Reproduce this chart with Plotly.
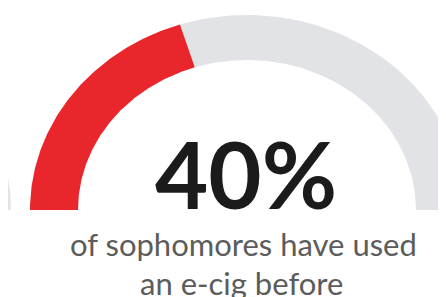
import numpy as np
import plotly.graph_objects as go

# ---- data ----
value_pct = 40            # share of sophomores who have used an e-cig
gauge_max = 100
headline = "40%"
subtitle_lines = ["of sophomores have used", "an e-cig before"]

# ---- geometry (pixel-like data space) ----
W, H = 446, 297
PAD = 8                      # page body margin in the browser
cx, cy = 247, H - 210
rx_out, rx_in = 217, 169
ry_out, ry_in = 195, 150
RED = "#e8262b"
GREY = "#e2e3e6"


def arc(c_x, c_y, a0, a1, n=120):
    t = np.linspace(np.radians(a0), np.radians(a1), n)
    xo = c_x + rx_out * np.cos(t)
    yo = c_y + ry_out * np.sin(t)
    xi = c_x + rx_in * np.cos(t[::-1])
    yi = c_y + ry_in * np.sin(t[::-1])
    return np.r_[xo, xi, xo[:1]], np.r_[yo, yi, yo[:1]]


split = 180 - 180 * value_pct / gauge_max

fig = go.Figure()
# neighbouring gauge (only its right leg is visible at the left edge)
gx, gy = arc(-206, cy, 0, 180)
fig.add_trace(go.Scatter(x=gx, y=gy, fill="toself", fillcolor=GREY,
                         line=dict(width=0), mode="lines", hoverinfo="skip"))
# remainder
gx, gy = arc(cx, cy, 0, split)
fig.add_trace(go.Scatter(x=gx, y=gy, fill="toself", fillcolor=GREY,
                         line=dict(width=0), mode="lines", hoverinfo="skip"))
# value
rx_, ry_ = arc(cx, cy, split, 180)
fig.add_trace(go.Scatter(x=rx_, y=ry_, fill="toself", fillcolor=RED,
                         line=dict(width=0), mode="lines", hoverinfo="skip"))

fig.add_annotation(x=246, y=H - 173, text=headline, showarrow=False,
                   font=dict(family="Lato", size=92, color="#1b1b1b", weight=700),
                   xanchor="center", yanchor="middle")
fig.add_annotation(x=243, y=H - 244, text=subtitle_lines[0], showarrow=False,
                   font=dict(family="Lato", size=31, color="#5c5c5c"),
                   xanchor="center", yanchor="middle")
fig.add_annotation(x=241, y=H - 283, text=subtitle_lines[1], showarrow=False,
                   font=dict(family="Lato", size=31, color="#5c5c5c"),
                   xanchor="center", yanchor="middle")

fig.update_layout(
    width=W - PAD, height=H - PAD, margin=dict(l=0, r=0, t=0, b=0),
    paper_bgcolor="white", plot_bgcolor="white", showlegend=False,
    xaxis=dict(range=[PAD, W], visible=False, fixedrange=True),
    yaxis=dict(range=[0, H - PAD], visible=False, fixedrange=True),
)
fig.write_html("out.html")
